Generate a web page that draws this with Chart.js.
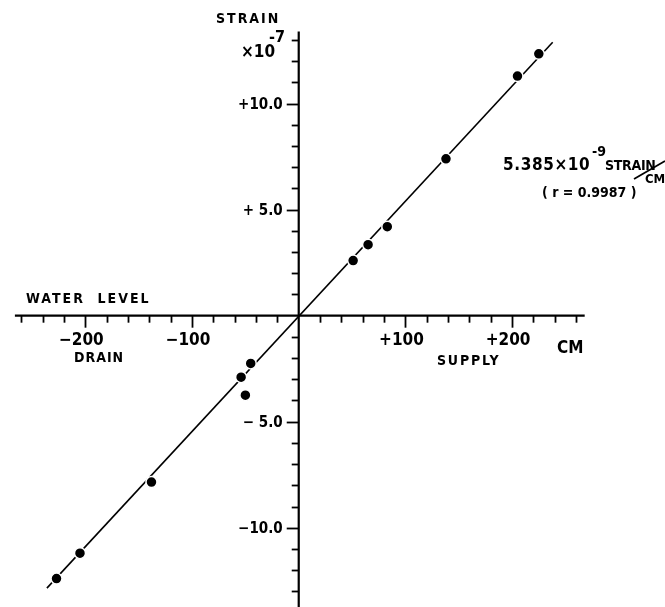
<!DOCTYPE html>
<html>
<head>
<meta charset="utf-8">
<script src="https://cdn.jsdelivr.net/npm/chart.js@4"></script>
<style>
  html, body { margin: 0; padding: 0; background: #fff; }
  #wrap { width: 665px; height: 607px; }
</style>
</head>
<body>
<div id="wrap"><canvas id="c"></canvas></div>
<script>
// water level (cm) vs strain (x10^-7)
const levelCm = [225, 205, 138, 83, 65, 51, -45, -54, -50, -138, -205, -227];
const strain  = [12.35, 11.3, 7.4, 4.2, 3.35, 2.6, -2.25, -2.9, -3.75, -7.85, -11.2, -12.4];

// regression line end points
const fitX = [-236, 238];
const fitY = [-12.85, 12.9];

// axis ticks
const xTicks = [-260, -240, -220, -200, -180, -160, -140, -120, -100, -80, -60, -40, -20,
                20, 40, 60, 80, 100, 120, 140, 160, 180, 200, 220, 240, 260];
const xMajor = [-200, -100, 100, 200];
const xLabels = ['−200', '−100', '+100', '+200'];
const yTicks = [-13, -12, -11, -10, -9, -8, -7, -6, -5, -4, -3, -2, -1,
                1, 2, 3, 4, 5, 6, 7, 8, 9, 10, 11, 12, 13];
const yMajor = [10, 5, -5, -10];
const yLabels = ['+10.0', '+ 5.0', '− 5.0', '−10.0'];

const FONT = '"DejaVu Sans Condensed", "DejaVu Sans", sans-serif';

function txt(ctx, s, x, y, size, align, spacing) {
  ctx.font = 'bold ' + size + 'px ' + FONT;
  ctx.letterSpacing = (spacing || 0) + 'px';
  ctx.textAlign = align || 'left';
  ctx.textBaseline = 'alphabetic';
  ctx.fillText(s, x, y);
}

const axesPlugin = {
  id: 'crossAxes',
  beforeDatasetsDraw(chart) {
    const ctx = chart.ctx;
    const xs = chart.scales.x, ys = chart.scales.y;
    const ox = xs.getPixelForValue(0), oy = ys.getPixelForValue(0);
    ctx.save();
    ctx.strokeStyle = '#000';
    ctx.fillStyle = '#000';
    ctx.lineWidth = 2.2;
    ctx.lineCap = 'butt';

    // x axis
    ctx.beginPath();
    ctx.moveTo(xs.getPixelForValue(-266), oy);
    ctx.lineTo(xs.getPixelForValue(268), oy);
    ctx.stroke();
    // y axis
    ctx.beginPath();
    ctx.moveTo(ox, ys.getPixelForValue(13.4));
    ctx.lineTo(ox, chart.height);
    ctx.stroke();

    ctx.lineWidth = 1.8;
    xTicks.forEach(v => {
      const px = Math.round(xs.getPixelForValue(v)) + 0.5;
      const len = xMajor.includes(v) ? 12 : 7;
      ctx.beginPath();
      ctx.moveTo(px, oy);
      ctx.lineTo(px, oy + len);
      ctx.stroke();
    });
    yTicks.forEach(v => {
      const py = Math.round(ys.getPixelForValue(v)) + 0.5;
      const len = yMajor.includes(v) ? 12 : 7;
      ctx.beginPath();
      ctx.moveTo(ox, py);
      ctx.lineTo(ox - len, py);
      ctx.stroke();
    });

    // tick labels
    xMajor.forEach((v, i) => {
      txt(ctx, xLabels[i], xs.getPixelForValue(v) - 4, oy + 29, 17, 'center');
    });
    yMajor.forEach((v, i) => {
      txt(ctx, yLabels[i], ox - 16, ys.getPixelForValue(v) + 5.5, 15, 'right');
    });

    // axis titles
    txt(ctx, 'STRAIN', 216, 23, 14, 'left', 2);
    txt(ctx, '×10', 241, 57, 17, 'left');
    txt(ctx, '-7', 269, 42, 16, 'left');
    txt(ctx, 'WATER  LEVEL', 26, 303, 14, 'left', 2);
    txt(ctx, 'DRAIN', 74, 362, 14, 'left', 1);
    txt(ctx, 'SUPPLY', 437, 365, 14, 'left', 1.8);
    txt(ctx, 'CM', 557, 353, 17, 'left');

    // regression note
    txt(ctx, '5.385×10', 503, 170, 17, 'left', 0.6);
    txt(ctx, '-9', 592, 156, 14, 'left');
    txt(ctx, 'STRAIN', 605, 170, 14, 'left', -0.3);
    txt(ctx, 'CM', 645, 183, 13, 'left');
    txt(ctx, '( r = 0.9987 )', 542, 197, 14, 'left');
    ctx.lineWidth = 1.8;
    ctx.beginPath();
    ctx.moveTo(634, 179);
    ctx.lineTo(665, 161);
    ctx.stroke();
    ctx.restore();
  }
};

new Chart(document.getElementById('c'), {
  type: 'scatter',
  data: {
    datasets: [
      {
        label: 'observed',
        data: levelCm.map((x, i) => ({ x, y: strain[i] })),
        backgroundColor: '#000',
        borderColor: '#fff',
        borderWidth: 1.5,
        pointRadius: 5.5,
        order: 0
      },
      {
        label: 'fit',
        type: 'line',
        data: fitX.map((x, i) => ({ x, y: fitY[i] })),
        borderColor: '#000',
        borderWidth: 1.6,
        pointRadius: 0,
        fill: false,
        order: 1
      }
    ]
  },
  options: {
    responsive: true,
    maintainAspectRatio: false,
    animation: false,
    layout: { padding: 0 },
    plugins: { legend: { display: false }, tooltip: { enabled: false } },
    scales: {
      x: { type: 'linear', min: -273.4, max: 336.7, display: false },
      y: { type: 'linear', min: -13.41, max: 14.56, display: false }
    }
  },
  plugins: [axesPlugin]
});
</script>
</body>
</html>
